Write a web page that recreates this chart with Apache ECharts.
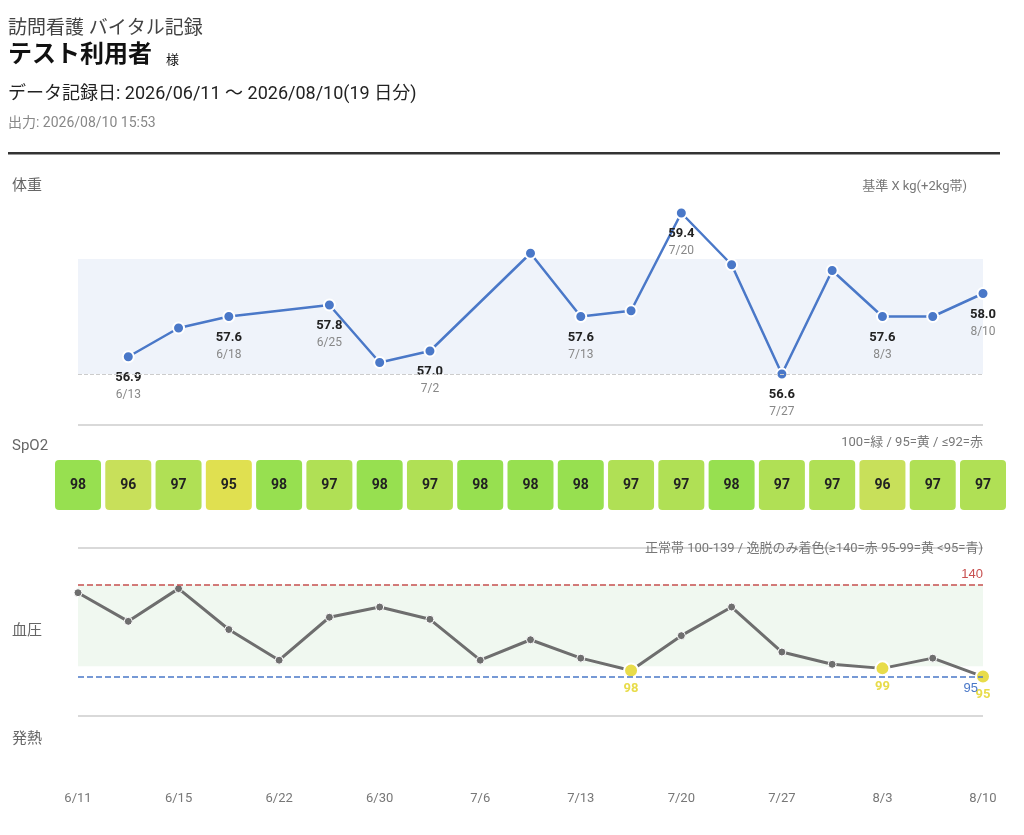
<!DOCTYPE html>
<html>
<head>
<meta charset="utf-8">
<title>訪問看護 バイタル記録</title>
<script src="https://cdn.jsdelivr.net/npm/echarts@6/dist/echarts.min.js"></script>
<style>body{margin:0;background:#fff}</style>
</head>
<body>
<div id="main" style="width:1024px;height:835px;"></div>
<script>
var dates = ['6/11','6/13','6/15','6/18','6/22','6/25','6/30','7/2','7/6','7/9','7/13','7/16','7/20','7/23','7/27','7/30','8/3','8/6','8/10'];
var weight = [null,56.9,57.4,57.6,null,57.8,56.8,57.0,null,58.7,57.6,57.7,59.4,58.5,56.6,58.4,57.6,57.6,58.0];
var weightLabeled = [1,3,5,7,10,12,14,16,18];
var spo2 = [98,96,97,95,98,97,98,97,98,98,98,97,97,98,97,97,96,97,97];
var bp = [136,122,138,118,103,124,129,123,103,113,104,98,115,129,107,101,99,104,95];
var weightBand = [56.6, 58.6];
var bpBand = [100, 140];
var bpLow = 95;

var spoColor = {98:'#97e050',97:'#b0e055',96:'#c8e05a',95:'#e0e050'};
var font = 'Roboto, "Noto Sans CJK JP", sans-serif';
var L = 78, W = 905;

var myChart = echarts.init(document.getElementById('main'));
function ax(i){ return {type:'category', gridIndex:i, data:dates, boundaryGap:false, show:i===3,
  axisLine:{show:false}, axisTick:{show:false},
  axisLabel:{interval:1, color:'#777', fontSize:13, fontFamily:font, margin:12}}; }
function ln(y){ return {type:'line', shape:{x1:78,y1:y,x2:983,y2:y}, style:{stroke:'#ccc',lineWidth:1.5}}; }
function tx(x,y,t,size,color,align,weight){ return {type:'text', x:x, y:y, style:{text:t, fontSize:size, fill:color, fontFamily:font, align:align||'left', fontWeight:weight||'normal'}}; }

myChart.setOption({
  animation:false,
  grid:[
    {left:L, width:W, top:190, height:230},
    {left:L, width:W, top:450, height:70},
    {left:L, width:W, top:560, height:137},
    {left:L, width:W, top:730, height:50}
  ],
  xAxis:[ax(0),ax(1),ax(2),ax(3)],
  yAxis:[
    {type:'value', gridIndex:0, min:55.8, max:59.8, show:false},
    {type:'value', gridIndex:1, min:0, max:1, show:false},
    {type:'value', gridIndex:2, min:85, max:152, show:false},
    {type:'value', gridIndex:3, min:0, max:1, show:false}
  ],
  graphic:[
    tx(8,20,'訪問看護 バイタル記録',19,'#444'),
    tx(8,44,'テスト利用者',24,'#111','left','bold'),
    tx(166,54,'様',13,'#111'),
    tx(8,86,'データ記録日: 2026/06/11 〜 2026/08/10(19 日分)',18,'#222'),
    tx(8,117,'出力: 2026/08/10 15:53',14,'#888'),
    {type:'rect', shape:{x:8,y:152,width:992,height:2.5}, style:{fill:'#333'}},
    tx(12,179,'体重',15,'#666'),
    tx(967,180,'基準 X kg(+2kg帯)',13,'#777','right'),
    ln(425),
    tx(12,439,'SpO2',15,'#666'),
    tx(983,436,'100=緑 / 95=黄 / ≤92=赤',13,'#777','right'),
    ln(548),
    tx(983,542,'正常帯 100-139 / 逸脱のみ着色(≥140=赤 95-99=黄 <95=青)',13,'#777','right'),
    tx(12,624,'血圧',15,'#666'),
    ln(716),
    tx(12,732,'発熱',15,'#666')
  ],
  series:[
    {type:'line', xAxisIndex:0, yAxisIndex:0, data:weight, connectNulls:true,
      lineStyle:{color:'#4a78c8', width:2.5}, itemStyle:{color:'#4a78c8', borderColor:'#fff', borderWidth:2},
      symbol:'circle', symbolSize:11,
      label:{show:true, position:'bottom', distance:6, lineHeight:17, align:'center',
        formatter:function(p){ return weightLabeled.indexOf(p.dataIndex)>=0 ? '{v|'+p.value.toFixed(1)+'}\n{d|'+dates[p.dataIndex]+'}' : ''; },
        rich:{v:{fontSize:13,fontWeight:'bold',color:'#222',fontFamily:font}, d:{fontSize:12,color:'#888',fontFamily:font}}},
      markArea:{silent:true, itemStyle:{color:'rgba(74,120,200,0.09)'}, data:[[{yAxis:weightBand[0]},{yAxis:weightBand[1]}]]},
      markLine:{silent:true, symbol:'none', label:{show:false}, lineStyle:{color:'#ccc', type:'dashed', width:1}, data:[{yAxis:weightBand[0]}]}
    },
    {type:'custom', xAxisIndex:1, yAxisIndex:1, data:spo2.map(function(v,i){return [i,v];}), clip:false,
      renderItem:function(params, api){
        var p = api.coord([api.value(0), 0.5]);
        var v = api.value(1);
        return {type:'group', children:[
          {type:'rect', shape:{x:p[0]-23,y:p[1]-25,width:46,height:50,r:4}, style:{fill:spoColor[v]||'#e06060'}},
          {type:'text', style:{x:p[0],y:p[1],text:String(v),align:'center',verticalAlign:'middle',fontSize:14,fontWeight:'bold',fill:'#222',fontFamily:font}}
        ]};
      }
    },
    {type:'line', xAxisIndex:2, yAxisIndex:2, data:bp.map(function(v){
        var dev = v < bpBand[0];
        return {value:v, symbolSize:dev?14:8, itemStyle:{color:dev?'#e8dc4a':'#6e6e6e', borderColor:'#fff', borderWidth:dev?2:1},
          label:{show:dev, position:'bottom', distance:4, color:'#e8dc4a', fontWeight:'bold', fontSize:13, fontFamily:font}};
      }),
      symbol:'circle', lineStyle:{color:'#6e6e6e', width:3},
      markArea:{silent:true, itemStyle:{color:'rgba(120,190,120,0.11)'}, data:[[{yAxis:bpBand[0]},{yAxis:bpBand[1]}]]},
      markLine:{silent:true, symbol:'none', data:[
        {yAxis:bpBand[1], lineStyle:{color:'#c85050', type:'dashed', width:1.5}, label:{position:'insideEndTop', color:'#c85050', fontSize:13, formatter:'140', distance:[0,4]}},
        {yAxis:bpLow, lineStyle:{color:'#4a78c8', type:'dashed', width:1.5}, label:{position:'insideEndBottom', color:'#4a78c8', fontSize:13, formatter:'95'}}
      ]}
    },
    {type:'line', xAxisIndex:3, yAxisIndex:3, data:[], silent:true}
  ]
});
</script>
</body>
</html>
